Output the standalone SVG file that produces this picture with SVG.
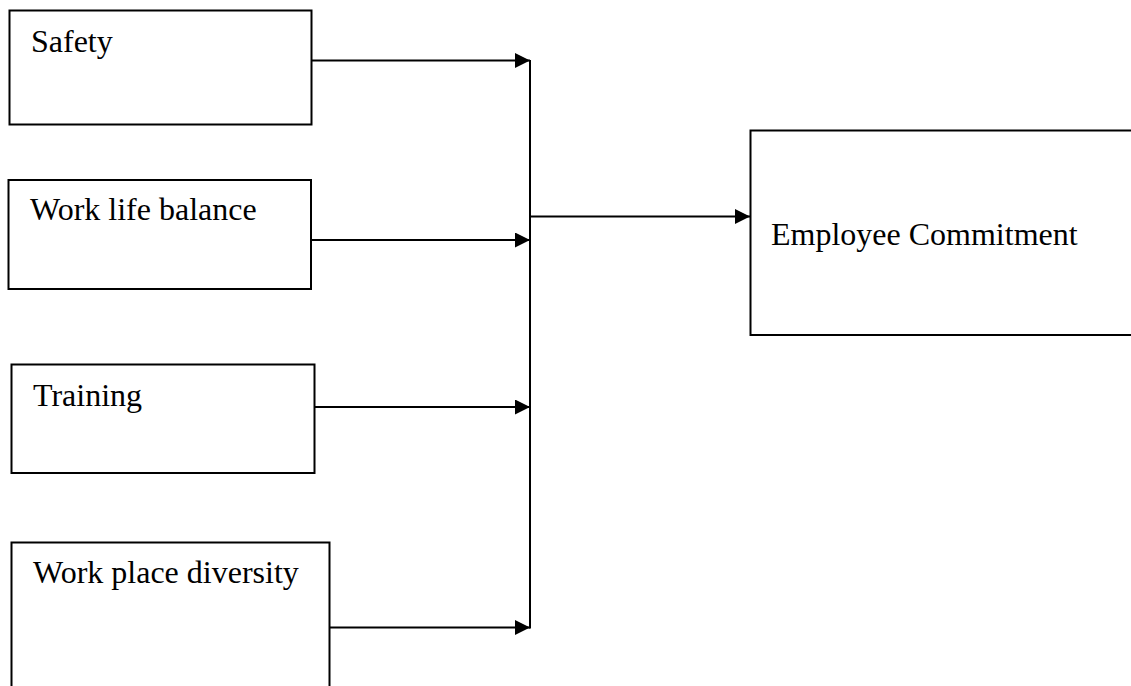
<svg xmlns="http://www.w3.org/2000/svg" width="1131" height="686" viewBox="0 0 1131 686">
<style>
.box{fill:#fff;stroke:#000;stroke-width:2}
.lbl{font-family:"Liberation Serif","Times New Roman",serif;font-size:32px;fill:#000}
.con{stroke:#000;stroke-width:2;fill:none}
</style>
<defs>
<marker id="ah" markerUnits="userSpaceOnUse" markerWidth="16" markerHeight="16" refX="15" refY="7.5" orient="auto">
<path d="M0,0 L15,7.5 L0,15 Z" fill="#000"/>
</marker>
</defs>
<rect width="1131" height="686" fill="#fff"/>
<g id="safety">
<rect class="box" x="9.5" y="10.5" width="302" height="114"/>
<text class="lbl" x="31" y="52">Safety</text>
</g>
<g id="work-life-balance">
<rect class="box" x="8.5" y="180" width="302.5" height="109"/>
<text class="lbl" x="30" y="220">Work life balance</text>
</g>
<g id="training">
<rect class="box" x="11.5" y="364.5" width="303" height="108.5"/>
<text class="lbl" x="33" y="406">Training</text>
</g>
<g id="work-place-diversity">
<rect class="box" x="11.5" y="542.5" width="318" height="160"/>
<text class="lbl" x="33" y="583">Work place diversity</text>
</g>
<g id="employee-commitment">
<rect class="box" x="750.5" y="130.5" width="400" height="204.5"/>
<text class="lbl" x="771" y="245">Employee Commitment</text>
</g>
<g id="connectors">
<line class="con" x1="311.5" y1="60.5" x2="530" y2="60.5" marker-end="url(#ah)"/>
<line class="con" x1="311" y1="240" x2="530" y2="240" marker-end="url(#ah)"/>
<line class="con" x1="314.5" y1="407" x2="530" y2="407" marker-end="url(#ah)"/>
<line class="con" x1="329.5" y1="627.5" x2="530" y2="627.5" marker-end="url(#ah)"/>
<line class="con" x1="530" y1="60" x2="530" y2="628.5"/>
<line class="con" x1="530" y1="216.5" x2="750" y2="216.5" marker-end="url(#ah)"/>
</g>
</svg>
